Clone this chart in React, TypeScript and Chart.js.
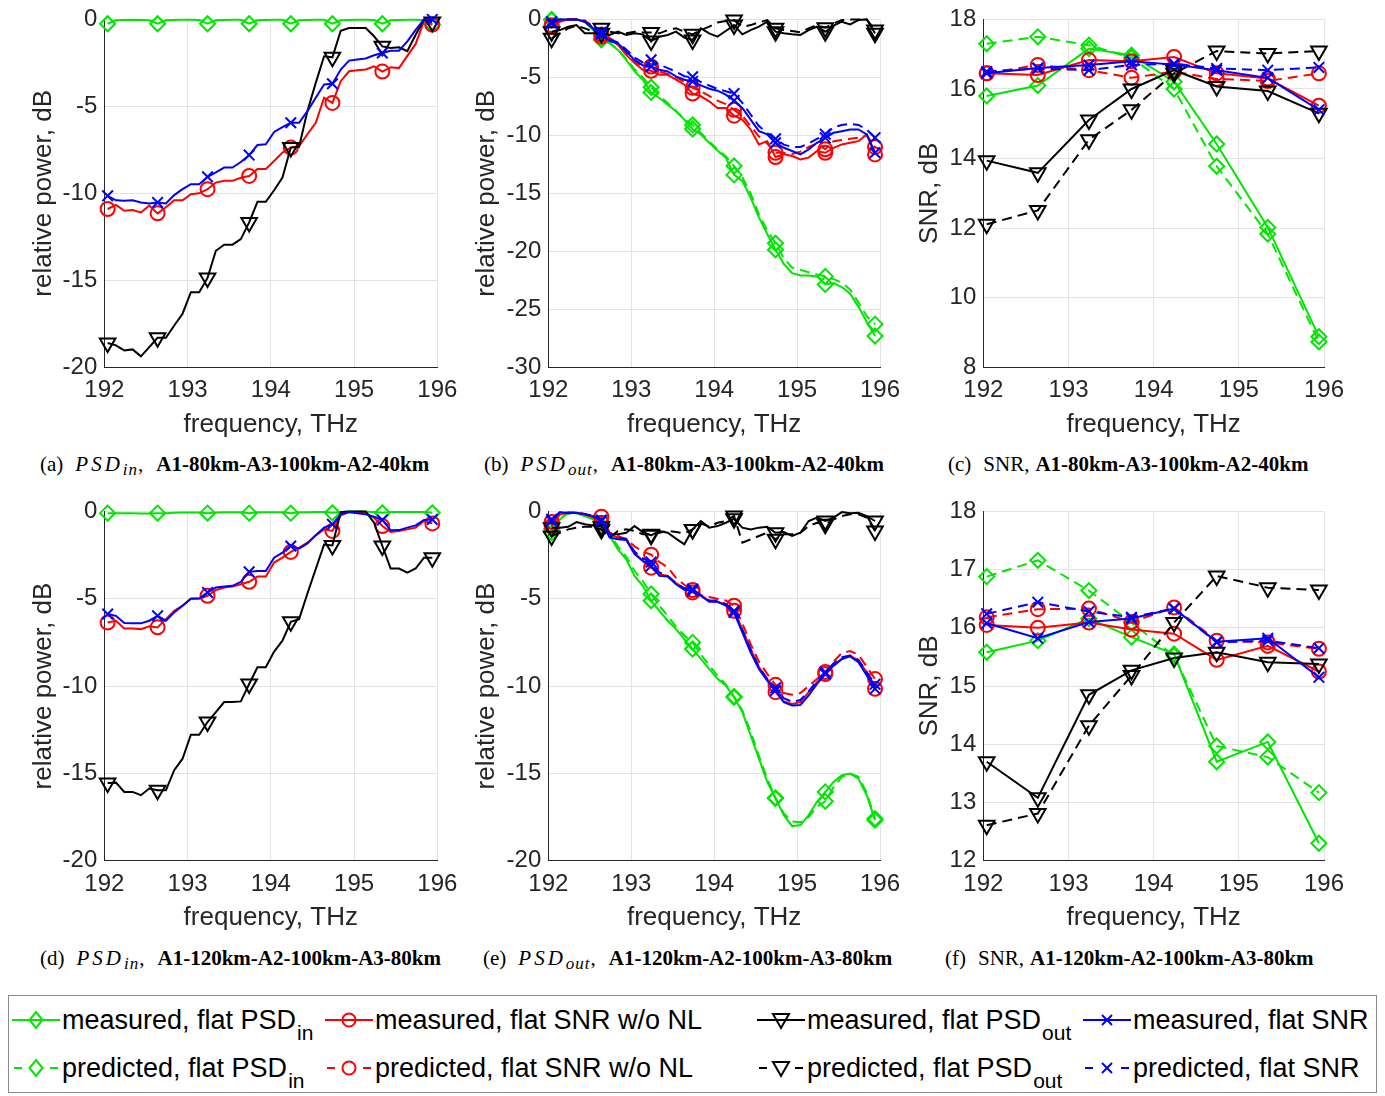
import React, { useEffect, useRef } from "react";
import { Chart, registerables } from "chart.js";

Chart.register(...registerables);

const FONT = '"Liberation Sans", Arial, Helvetica, sans-serif';
const SERIF = '"Liberation Serif", "Times New Roman", Times, serif';

// ---------------- data ----------------
const FREQ = [
  192.04, 192.14, 192.24, 192.34, 192.44, 192.54, 192.64, 192.74, 192.84, 192.94,
  193.04, 193.14, 193.24, 193.34, 193.44, 193.54, 193.64, 193.74, 193.84, 193.94,
  194.04, 194.14, 194.24, 194.34, 194.44, 194.54, 194.64, 194.74, 194.84, 194.94,
  195.04, 195.14, 195.24, 195.34, 195.44, 195.54, 195.64, 195.74, 195.84, 195.94,
];
const CHANNEL_FREQ = [192.04, 192.64, 193.24, 193.74, 194.24, 194.74, 195.34, 195.94];
const MARKER_INDEX = [0, 6, 12, 17, 22, 27, 33, 39];
const X_TICKS = [192, 193, 194, 195, 196];
const PSD_TICKS_20 = [-20, -15, -10, -5, 0];
const PSD_TICKS_30 = [-30, -25, -20, -15, -10, -5, 0];
const SNR_TICKS_C = [8, 10, 12, 14, 16, 18];
const SNR_TICKS_F = [12, 13, 14, 15, 16, 17, 18];

// (a) PSD_in, A1-80km-A3-100km-A2-40km
const A_MEAS_PSDIN = [-0.25, -0.05, -0.03, -0.02, -0.03, -0.05, -0.25, -0.05, -0.03, -0.02, -0.02, -0.03, -0.25, -0.05, -0.03, -0.02, -0.02, -0.25, -0.05, -0.03, -0.02, -0.02, -0.25, -0.05, -0.03, -0.02, -0.02, -0.25, -0.05, -0.03, -0.02, -0.02, -0.03, -0.25, -0.05, -0.03, -0.02, -0.02, -0.05, -0.3];
const A_MEAS_SNRWO = [-10.9, -10.66, -11.0, -10.96, -11.1, -10.7, -11.15, -10.8, -10.4, -10.4, -10.05, -10.0, -9.76, -9.38, -9.28, -9.28, -9.1, -9.0, -8.6, -8.6, -8.14, -7.66, -7.37, -7.28, -6.6, -5.94, -4.5, -4.8, -3.55, -2.98, -2.92, -2.88, -2.7, -3.0, -2.75, -2.8, -2.1, -1.41, -0.1, -0.3];
const A_MEAS_PSDOUT = [-18.6, -18.74, -19.03, -18.97, -19.37, -18.84, -18.3, -18.3, -17.6, -16.92, -15.68, -15.68, -14.86, -13.3, -12.95, -12.95, -12.63, -11.67, -10.49, -10.49, -9.82, -9.09, -7.37, -7.32, -5.27, -3.65, -2.12, -2.18, -0.65, -0.5, -0.5, -0.5, -0.97, -1.55, -1.64, -1.6, -1.83, -0.88, 0, -0.15];
const A_MEAS_SNR = [-10.14, -10.4, -10.43, -10.4, -10.52, -10.58, -10.52, -10.58, -10.1, -9.76, -9.47, -9.47, -9.05, -8.8, -8.52, -8.52, -8.2, -7.8, -7.22, -7.18, -6.47, -6.19, -5.94, -5.94, -5.27, -4.5, -3.74, -3.7, -2.88, -2.37, -2.31, -2.25, -2.06, -1.93, -1.8, -1.8, -1.26, -0.6, 0, 0];

// (b) PSD_out, A1-80km-A3-100km-A2-40km
const B_MEAS_PSDIN = [-0.06, 0, 0, 0, -0.2, -0.92, -1.77, -2.06, -2.63, -3.49, -4.49, -5.2, -6.3, -6.78, -7.35, -7.92, -8.64, -9.45, -9.92, -10.64, -11.3, -11.92, -13.41, -13.93, -15.36, -17.07, -18.5, -19.87, -21.08, -21.88, -22.08, -22.08, -22.16, -22.85, -22.73, -23.08, -23.65, -24.79, -26.08, -27.3];
const B_PRED_PSDIN = [0, 0, 0, 0, -0.2, -0.9, -1.7, -2.0, -2.6, -3.4, -4.3, -5.0, -5.85, -6.6, -7.2, -7.9, -8.6, -9.1, -9.8, -10.5, -11.2, -11.8, -12.64, -13.6, -15.0, -16.8, -18.2, -19.3, -20.6, -21.4, -21.6, -21.8, -22.0, -22.16, -22.4, -22.7, -23.3, -24.4, -25.6, -26.28];
const B_MEAS_SNRWO = [-0.63, -0.2, 0, 0, -0.2, -0.77, -1.49, -1.69, -2.2, -3.06, -3.77, -4.35, -4.43, -4.78, -4.78, -5.2, -5.63, -6.4, -6.63, -7.06, -7.64, -7.64, -8.3, -8.64, -9.49, -10.78, -10.5, -11.87, -11.64, -11.78, -12.07, -11.92, -11.35, -11.5, -11.07, -10.78, -10.64, -10.5, -9.92, -11.64];
const B_PRED_SNRWO = [-0.5, -0.1, 0, 0, -0.1, -0.6, -1.3, -1.6, -2.1, -2.9, -3.6, -4.1, -4.06, -4.5, -4.7, -5.0, -5.4, -5.9, -6.2, -6.6, -7.0, -7.3, -7.8, -8.3, -9.2, -10.1, -10.7, -11.5, -11.5, -11.6, -11.4, -11.0, -10.7, -11.2, -10.5, -10.4, -10.3, -10.2, -10.0, -11.0];
const B_MEAS_PSDOUT = [-1.06, -0.92, -0.63, -0.49, -1.2, -1.2, -1.2, -1.34, -1.06, -1.34, -1.2, -1.29, -1.86, -1.49, -1.34, -1.06, -1.57, -1.77, -0.77, -1.2, -1.49, -1.0, -0.49, -1.29, -0.92, -0.63, -0.2, -1.06, -1.2, -1.29, -1.34, -0.92, -0.63, -1.06, -0.54, -0.2, -0.43, -0.06, 0, -1.2];
const B_PRED_PSDOUT = [-1.63, -1.2, -0.77, -0.54, -0.77, -1.06, -0.77, -1.06, -1.2, -1.2, -1.06, -1.12, -1.12, -1.2, -0.92, -0.77, -1.06, -1.29, -0.92, -0.63, -0.26, -0.14, -0.06, -0.63, -0.49, -0.26, -0.06, -0.77, -0.92, -1.0, -1.12, -0.77, -0.49, -0.72, -0.34, -0.06, 0, 0, 0, -0.92];
const B_MEAS_SNR = [-0.34, 0, 0, 0, -0.2, -0.77, -1.29, -1.86, -2.06, -2.77, -3.49, -3.97, -4.06, -4.35, -4.49, -4.92, -5.2, -5.35, -5.69, -5.98, -6.15, -6.49, -7.0, -7.64, -8.64, -9.64, -9.92, -10.64, -11.07, -11.35, -11.64, -11.21, -10.64, -10.21, -9.78, -9.64, -9.49, -9.49, -9.92, -11.5];
const B_PRED_SNR = [-0.2, 0, 0, 0, -0.15, -0.7, -1.1, -1.7, -2.0, -2.6, -3.3, -3.7, -3.49, -3.9, -4.2, -4.5, -4.9, -4.95, -5.4, -5.7, -6.0, -6.2, -6.4, -7.2, -8.2, -9.2, -9.8, -10.3, -10.8, -11.0, -11.0, -10.7, -10.3, -9.9, -9.3, -9.1, -9.0, -9.1, -9.5, -10.2];

// (c) SNR, A1-80km-A3-100km-A2-40km
const C_MEAS_PSDIN = [15.8, 16.1, 17.16, 16.97, 16.21, 14.42, 12.02, 8.88];
const C_PRED_PSDIN = [17.3, 17.5, 17.26, 16.9, 16.0, 13.78, 11.83, 8.73];
const C_MEAS_SNRWO = [16.45, 16.4, 16.83, 16.8, 16.92, 16.45, 16.3, 15.52];
const C_PRED_SNRWO = [16.45, 16.69, 16.54, 16.32, 16.5, 16.29, 16.23, 16.45];
const C_MEAS_PSDOUT = [13.94, 13.59, 15.11, 16.0, 16.54, 16.07, 15.94, 15.3];
const C_PRED_PSDOUT = [12.11, 12.51, 14.54, 15.4, 16.45, 17.09, 17.02, 17.09];
const C_MEAS_SNR = [16.45, 16.6, 16.69, 16.8, 16.7, 16.54, 16.32, 15.4];
const C_PRED_SNR = [16.5, 16.59, 16.54, 16.69, 16.73, 16.59, 16.54, 16.62];

// (d) PSD_in, A1-120km-A2-100km-A3-80km
const D_MEAS_PSDIN = [-0.1, -0.1, -0.1, -0.1, -0.12, -0.12, -0.1, -0.1, -0.08, -0.07, -0.07, -0.06, -0.1, -0.06, -0.05, -0.05, -0.05, -0.1, -0.05, -0.05, -0.05, -0.05, -0.1, -0.05, -0.05, -0.04, -0.03, -0.08, -0.03, 0, 0, -0.02, -0.03, -0.08, -0.04, -0.04, -0.04, -0.04, -0.04, -0.08];
const D_MEAS_SNRWO = [-6.36, -6.26, -6.7, -6.7, -6.74, -6.58, -6.64, -6.17, -5.69, -5.4, -5.02, -4.99, -4.83, -4.51, -4.36, -4.3, -4.17, -4.03, -3.73, -3.73, -2.93, -2.65, -2.32, -2.07, -1.79, -1.37, -1.03, -1.12, -0.23, -0.04, -0.08, -0.11, -0.36, -0.84, -1.18, -1.12, -1.03, -0.93, -0.55, -0.69];
const D_MEAS_PSDOUT = [-15.55, -15.53, -16.06, -16.06, -16.25, -15.87, -15.97, -15.97, -14.82, -14.16, -12.79, -12.79, -12.06, -11.49, -10.92, -10.92, -10.88, -9.88, -8.92, -8.92, -8.03, -7.4, -6.32, -6.17, -4.7, -3.3, -1.9, -1.95, -0.04, 0, 0, 0, -0.65, -1.98, -3.27, -3.27, -3.5, -3.27, -2.65, -2.65];
const D_MEAS_SNR = [-5.88, -5.98, -6.39, -6.41, -6.41, -6.26, -5.98, -6.26, -5.78, -5.4, -4.99, -4.99, -4.64, -4.36, -4.3, -4.26, -4.03, -3.46, -3.41, -3.41, -2.65, -2.36, -1.98, -2.13, -1.83, -1.37, -0.93, -0.74, -0.17, -0.04, -0.11, -0.17, -0.3, -0.49, -1.08, -1.07, -0.93, -0.8, -0.49, -0.46];

// (e) PSD_out, A1-120km-A2-100km-A3-80km
const E_MEAS_PSDIN = [-1.22, -0.46, -0.08, -0.11, -0.27, -0.46, -0.84, -1.41, -2.17, -2.74, -3.69, -4.26, -5.12, -5.69, -6.26, -6.74, -7.31, -7.88, -8.45, -9.02, -9.59, -9.97, -10.64, -11.49, -12.83, -14.16, -15.49, -16.44, -17.39, -18.02, -17.96, -17.39, -16.63, -16.06, -15.49, -15.11, -15.01, -15.3, -16.25, -17.68];
const E_PRED_PSDIN = [-1.0, -0.4, -0.1, -0.1, -0.25, -0.45, -0.8, -1.3, -2.0, -2.6, -3.4, -4.0, -4.73, -5.4, -6.0, -6.6, -7.1, -7.5, -8.2, -8.8, -9.4, -9.9, -10.6, -11.4, -12.6, -14.0, -15.3, -16.4, -17.3, -17.75, -17.8, -17.5, -16.9, -16.6, -15.8, -15.2, -15.0, -15.2, -16.1, -17.6];
const E_MEAS_SNRWO = [-0.84, -0.17, -0.08, -0.08, -0.17, -0.36, -0.65, -1.31, -1.5, -1.56, -2.36, -2.84, -3.22, -3.6, -3.69, -4.11, -4.41, -4.64, -4.8, -5.12, -5.18, -5.31, -5.69, -6.74, -7.88, -8.92, -9.59, -10.35, -10.88, -11.02, -10.92, -10.35, -9.78, -9.31, -8.83, -8.45, -8.26, -8.54, -9.21, -10.16];
const E_PRED_SNRWO = [-0.6, -0.15, -0.05, -0.05, -0.15, -0.35, -0.3, -1.2, -1.4, -1.6, -2.0, -2.3, -2.48, -2.9, -3.2, -3.8, -4.2, -4.5, -4.8, -4.9, -5.0, -5.1, -5.4, -6.4, -7.6, -8.6, -9.3, -9.93, -10.4, -10.5, -10.4, -10.0, -9.6, -9.2, -8.6, -8.1, -8.0, -8.2, -8.9, -9.6];
const E_MEAS_PSDOUT = [-0.93, -0.93, -0.88, -0.61, -0.74, -0.8, -0.88, -1.31, -1.31, -1.22, -0.84, -1.18, -1.37, -1.12, -1.22, -1.56, -1.88, -1.03, -0.55, -0.93, -0.84, -0.65, -0.42, -0.93, -1.03, -0.93, -0.88, -1.22, -1.18, -1.41, -1.22, -0.55, -0.36, -0.55, -0.36, -0.04, -0.11, -0.08, -0.27, -0.55];
const E_PRED_PSDOUT = [-1.41, -1.22, -1.03, -0.93, -0.88, -0.88, -1.03, -1.5, -1.12, -1.03, -1.12, -1.31, -1.31, -1.22, -1.12, -1.18, -1.26, -1.03, -0.68, -0.88, -0.65, -0.55, -0.27, -1.79, -1.6, -1.41, -1.22, -1.6, -1.31, -1.31, -1.22, -0.84, -0.65, -0.74, -0.46, -0.27, -0.17, -0.17, -0.36, -1.12];
const E_MEAS_SNR = [-0.55, -0.04, -0.11, -0.08, -0.17, -0.27, -0.55, -1.5, -1.6, -1.64, -2.45, -2.84, -3.12, -3.69, -3.73, -4.17, -4.49, -4.55, -4.83, -5.18, -5.18, -5.4, -5.79, -6.93, -8.07, -9.02, -9.69, -10.26, -10.92, -11.11, -11.08, -10.54, -9.88, -9.31, -8.83, -8.45, -8.3, -8.64, -9.4, -10.16];
const E_PRED_SNR = [-0.45, -0.05, -0.1, -0.08, -0.15, -0.25, -0.5, -1.3, -1.5, -1.6, -2.3, -2.7, -2.9, -3.5, -3.7, -4.1, -4.4, -4.45, -4.8, -5.1, -5.1, -5.3, -5.7, -6.8, -7.9, -8.9, -9.6, -10.1, -10.7, -10.9, -10.8, -10.3, -9.7, -9.2, -8.7, -8.35, -8.25, -8.5, -9.2, -9.9];

// (f) SNR, A1-120km-A2-100km-A3-80km
const F_MEAS_PSDIN = [15.58, 15.78, 16.16, 15.84, 15.55, 13.7, 14.04, 12.3];
const F_PRED_PSDIN = [16.88, 17.16, 16.64, 16.09, 15.52, 13.97, 13.78, 13.17];
const F_MEAS_SNRWO = [16.05, 16.0, 16.09, 15.97, 15.9, 15.45, 15.69, 15.25];
const F_PRED_SNRWO = [16.18, 16.32, 16.33, 16.1, 16.35, 15.78, 15.75, 15.64];
const F_MEAS_PSDOUT = [13.7, 13.08, 14.85, 15.27, 15.48, 15.58, 15.41, 15.38];
const F_PRED_PSDOUT = [12.61, 12.81, 14.32, 15.18, 16.09, 16.89, 16.69, 16.65];
const F_MEAS_SNR = [16.08, 15.82, 16.1, 16.16, 16.33, 15.76, 15.82, 15.15];
const F_PRED_SNR = [16.24, 16.44, 16.28, 16.18, 16.33, 15.75, 15.78, 15.65];

const CAPTION_TAGS = ["(a)", "(b)", "(c)", "(d)", "(e)", "(f)"];
const CAPTION_QTY = ["PSD_in", "PSD_out", "SNR", "PSD_in", "PSD_out", "SNR"];
const CAPTION_ROUTES = [
  "A1-80km-A3-100km-A2-40km",
  "A1-80km-A3-100km-A2-40km",
  "A1-80km-A3-100km-A2-40km",
  "A1-120km-A2-100km-A3-80km",
  "A1-120km-A2-100km-A3-80km",
  "A1-120km-A2-100km-A3-80km",
];

// ---------------- styles ----------------
type Kind = "psdIn" | "snrWoNl" | "psdOut" | "snr";
const STYLE: Record<Kind, { color: string; pointStyle: string; rotation: number; radius: number }> = {
  psdIn: { color: "#00e600", pointStyle: "rectRot", rotation: 0, radius: 7.5 },
  snrWoNl: { color: "#ff0000", pointStyle: "circle", rotation: 0, radius: 7 },
  psdOut: { color: "#000000", pointStyle: "triangle", rotation: 180, radius: 9 },
  snr: { color: "#0000ff", pointStyle: "crossRot", rotation: 0, radius: 7.5 },
};
const AXIS_COLOR = "#262626";
const GRID_COLOR = "#e3e3e3";

type Series = { kind: Kind; predicted: boolean; y: number[] };
type PanelCfg = {
  area: { l: number; t: number; r: number; b: number };
  xs: number[];
  markers: number[] | null;
  yMin: number;
  yMax: number;
  yTicks: number[];
  yTitle: string;
  yTitleX: number;
  xTitleY: number;
  series: Series[];
};

const TOP_A = { t: 18, b: 367.3 };
const BOT_A = { t: 510.3, b: 860.7 };
const COL_L = [{ l: 104.3, r: 437.3, tx: 44 }, { l: 548.3, r: 880, tx: 487 }, { l: 983.3, r: 1324, tx: 930 }];

const PANELS: PanelCfg[] = [
  {
    area: { l: COL_L[0].l, r: COL_L[0].r, ...TOP_A }, xs: FREQ, markers: MARKER_INDEX,
    yMin: -20, yMax: 0, yTicks: PSD_TICKS_20, yTitle: "relative power, dB", yTitleX: COL_L[0].tx, xTitleY: 425,
    series: [
      { kind: "psdIn", predicted: false, y: A_MEAS_PSDIN },
      { kind: "snrWoNl", predicted: false, y: A_MEAS_SNRWO },
      { kind: "psdOut", predicted: false, y: A_MEAS_PSDOUT },
      { kind: "snr", predicted: false, y: A_MEAS_SNR },
    ],
  },
  {
    area: { l: COL_L[1].l, r: COL_L[1].r, ...TOP_A }, xs: FREQ, markers: MARKER_INDEX,
    yMin: -30, yMax: 0, yTicks: PSD_TICKS_30, yTitle: "relative power, dB", yTitleX: COL_L[1].tx, xTitleY: 425,
    series: [
      { kind: "psdIn", predicted: false, y: B_MEAS_PSDIN },
      { kind: "psdIn", predicted: true, y: B_PRED_PSDIN },
      { kind: "snrWoNl", predicted: false, y: B_MEAS_SNRWO },
      { kind: "snrWoNl", predicted: true, y: B_PRED_SNRWO },
      { kind: "psdOut", predicted: false, y: B_MEAS_PSDOUT },
      { kind: "psdOut", predicted: true, y: B_PRED_PSDOUT },
      { kind: "snr", predicted: false, y: B_MEAS_SNR },
      { kind: "snr", predicted: true, y: B_PRED_SNR },
    ],
  },
  {
    area: { l: COL_L[2].l, r: COL_L[2].r, ...TOP_A }, xs: CHANNEL_FREQ, markers: null,
    yMin: 8, yMax: 18, yTicks: SNR_TICKS_C, yTitle: "SNR, dB", yTitleX: COL_L[2].tx, xTitleY: 425,
    series: [
      { kind: "psdIn", predicted: false, y: C_MEAS_PSDIN },
      { kind: "psdIn", predicted: true, y: C_PRED_PSDIN },
      { kind: "snrWoNl", predicted: false, y: C_MEAS_SNRWO },
      { kind: "snrWoNl", predicted: true, y: C_PRED_SNRWO },
      { kind: "psdOut", predicted: false, y: C_MEAS_PSDOUT },
      { kind: "psdOut", predicted: true, y: C_PRED_PSDOUT },
      { kind: "snr", predicted: false, y: C_MEAS_SNR },
      { kind: "snr", predicted: true, y: C_PRED_SNR },
    ],
  },
  {
    area: { l: COL_L[0].l, r: COL_L[0].r, ...BOT_A }, xs: FREQ, markers: MARKER_INDEX,
    yMin: -20, yMax: 0, yTicks: PSD_TICKS_20, yTitle: "relative power, dB", yTitleX: COL_L[0].tx, xTitleY: 918,
    series: [
      { kind: "psdIn", predicted: false, y: D_MEAS_PSDIN },
      { kind: "snrWoNl", predicted: false, y: D_MEAS_SNRWO },
      { kind: "psdOut", predicted: false, y: D_MEAS_PSDOUT },
      { kind: "snr", predicted: false, y: D_MEAS_SNR },
    ],
  },
  {
    area: { l: COL_L[1].l, r: COL_L[1].r, ...BOT_A }, xs: FREQ, markers: MARKER_INDEX,
    yMin: -20, yMax: 0, yTicks: PSD_TICKS_20, yTitle: "relative power, dB", yTitleX: COL_L[1].tx, xTitleY: 918,
    series: [
      { kind: "psdIn", predicted: false, y: E_MEAS_PSDIN },
      { kind: "psdIn", predicted: true, y: E_PRED_PSDIN },
      { kind: "snrWoNl", predicted: false, y: E_MEAS_SNRWO },
      { kind: "snrWoNl", predicted: true, y: E_PRED_SNRWO },
      { kind: "psdOut", predicted: false, y: E_MEAS_PSDOUT },
      { kind: "psdOut", predicted: true, y: E_PRED_PSDOUT },
      { kind: "snr", predicted: false, y: E_MEAS_SNR },
      { kind: "snr", predicted: true, y: E_PRED_SNR },
    ],
  },
  {
    area: { l: COL_L[2].l, r: COL_L[2].r, ...BOT_A }, xs: CHANNEL_FREQ, markers: null,
    yMin: 12, yMax: 18, yTicks: SNR_TICKS_F, yTitle: "SNR, dB", yTitleX: COL_L[2].tx, xTitleY: 918,
    series: [
      { kind: "psdIn", predicted: false, y: F_MEAS_PSDIN },
      { kind: "psdIn", predicted: true, y: F_PRED_PSDIN },
      { kind: "snrWoNl", predicted: false, y: F_MEAS_SNRWO },
      { kind: "snrWoNl", predicted: true, y: F_PRED_SNRWO },
      { kind: "psdOut", predicted: false, y: F_MEAS_PSDOUT },
      { kind: "psdOut", predicted: true, y: F_PRED_PSDOUT },
      { kind: "snr", predicted: false, y: F_MEAS_SNR },
      { kind: "snr", predicted: true, y: F_PRED_SNR },
    ],
  },
];

const TICK_FONT = 24;
const TITLE_FONT = 26;

function panelBox(cfg: PanelCfg) {
  const left = Math.floor(cfg.area.l - 106);
  const top = Math.floor(cfg.area.t - 20);
  const right = Math.ceil(cfg.area.r + 30);
  const bottom = Math.ceil(cfg.area.b + 82);
  return { left, top, width: right - left, height: bottom - top };
}

function Panel({ cfg }: { cfg: PanelCfg }) {
  const ref = useRef<HTMLCanvasElement | null>(null);
  const box = panelBox(cfg);
  useEffect(() => {
    if (!ref.current) return;
    const { area } = cfg;
    const titleHalf = (TITLE_FONT * 1.2) / 2;
    const datasets = cfg.series
      .map((s) => {
        const st = STYLE[s.kind];
        return {
          data: cfg.xs.map((x, i) => ({ x, y: s.y[i] })),
          borderColor: st.color,
          backgroundColor: st.color,
          borderWidth: 2,
          borderDash: s.predicted ? [10, 6] : [],
          pointStyle: st.pointStyle,
          pointRotation: st.rotation,
          pointRadius: cfg.xs.map((_, i) => (!cfg.markers || cfg.markers.includes(i) ? st.radius : 0)),
          pointBorderColor: st.color,
          pointBackgroundColor: "rgba(0,0,0,0)",
          pointBorderWidth: 2,
          tension: 0,
          fill: false,
          clip: false as any,
        };
      })
      .reverse();
    const chart = new Chart(ref.current, {
      type: "line",
      data: { datasets: datasets as any },
      options: {
        responsive: false,
        animation: false,
        devicePixelRatio: 1,
        events: [],
        layout: {
          padding: { left: 0, top: area.t - box.top, right: box.left + box.width - area.r, bottom: 0 },
        },
        plugins: { legend: { display: false }, tooltip: { enabled: false } },
        scales: {
          x: {
            type: "linear",
            min: 192,
            max: 196,
            afterBuildTicks: (s: any) => {
              s.ticks = X_TICKS.map((v) => ({ value: v }));
            },
            afterFit: (s: any) => {
              s.height = box.top + box.height - area.b;
            },
            ticks: {
              color: AXIS_COLOR,
              font: { family: FONT, size: TICK_FONT },
              padding: 9,
              maxRotation: 0,
              autoSkip: false,
              callback: (v: any) => String(v),
            },
            grid: { color: GRID_COLOR, lineWidth: 1, drawTicks: false },
            border: { display: true, color: AXIS_COLOR, width: 1 },
            title: {
              display: true,
              text: "frequency, THz",
              color: AXIS_COLOR,
              font: { family: FONT, size: TITLE_FONT },
              padding: { top: 0, bottom: box.top + box.height - cfg.xTitleY - titleHalf },
            },
          },
          y: {
            type: "linear",
            min: cfg.yMin,
            max: cfg.yMax,
            afterBuildTicks: (s: any) => {
              s.ticks = cfg.yTicks.map((v) => ({ value: v }));
            },
            afterFit: (s: any) => {
              s.width = area.l - box.left;
            },
            ticks: {
              color: AXIS_COLOR,
              font: { family: FONT, size: TICK_FONT },
              padding: 7,
              autoSkip: false,
              callback: (v: any) => String(v),
            },
            grid: { color: GRID_COLOR, lineWidth: 1, drawTicks: false },
            border: { display: true, color: AXIS_COLOR, width: 1 },
            title: {
              display: true,
              text: cfg.yTitle,
              color: AXIS_COLOR,
              font: { family: FONT, size: TITLE_FONT },
              padding: { top: cfg.yTitleX - box.left - titleHalf, bottom: 0 },
            },
          },
        },
      } as any,
    });
    return () => chart.destroy();
  }, []);
  return (
    <canvas
      ref={ref}
      width={box.width}
      height={box.height}
      style={{ position: "absolute", left: box.left, top: box.top, width: box.width, height: box.height }}
    />
  );
}

// ---------------- captions ----------------
const CAPTION_POS = [
  { x: 40, y: 451 }, { x: 484, y: 451 }, { x: 948, y: 451 },
  { x: 40, y: 945 }, { x: 483, y: 945 }, { x: 945, y: 945 },
];

function Caption({ i }: { i: number }) {
  const qty = CAPTION_QTY[i];
  const [base, sub] = qty.split("_");
  return (
    <div
      style={{
        position: "absolute",
        left: CAPTION_POS[i].x,
        top: CAPTION_POS[i].y,
        fontFamily: SERIF,
        fontSize: 21,
        lineHeight: "26px",
        whiteSpace: "nowrap",
        color: "#000",
      }}
    >
      <span>{CAPTION_TAGS[i]}</span>
      <span style={{ marginLeft: 12 }}>
        {sub ? (
          <>
            <i style={{ letterSpacing: 3 }}>{base}</i>
            <i style={{ fontSize: 17, letterSpacing: 1, position: "relative", top: 4 }}>{sub}</i>
            <span>,</span>
            <b style={{ marginLeft: 13 }}>{CAPTION_ROUTES[i]}</b>
          </>
        ) : (
          <>
            <span>{base},</span>
            <b style={{ marginLeft: 6 }}>{CAPTION_ROUTES[i]}</b>
          </>
        )}
      </span>
    </div>
  );
}

// ---------------- legend ----------------
const LEGEND_LABELS = [
  "measured, flat PSD", "predicted, flat PSD",
  "measured, flat SNR w/o NL", "predicted, flat SNR w/o NL",
  "measured, flat PSD", "predicted, flat PSD",
  "measured, flat SNR", "predicted, flat SNR",
];
const LEGEND_SUBS = ["in", "in", "", "", "out", "out", "", ""];
const LEGEND_KINDS: Kind[] = ["psdIn", "psdIn", "snrWoNl", "snrWoNl", "psdOut", "psdOut", "snr", "snr"];
const LEGEND_COL_X = [12, 325, 757, 1083];
const LEGEND_ROW_Y = [1020, 1068];

function Marker({ kind }: { kind: Kind }) {
  const c = STYLE[kind].color;
  const cx = 24, cy = 12;
  if (kind === "psdIn")
    return <polygon points={`${cx},${cy - 8} ${cx + 6.5},${cy} ${cx},${cy + 8} ${cx - 6.5},${cy}`} fill="none" stroke={c} strokeWidth={2} />;
  if (kind === "snrWoNl") return <circle cx={cx} cy={cy} r={6.5} fill="none" stroke={c} strokeWidth={2} />;
  if (kind === "psdOut")
    return <polygon points={`${cx - 8},${cy - 6} ${cx + 8},${cy - 6} ${cx},${cy + 8}`} fill="none" stroke={c} strokeWidth={2} />;
  return (
    <g stroke={c} strokeWidth={2}>
      <line x1={cx - 5} y1={cy - 5} x2={cx + 5} y2={cy + 5} />
      <line x1={cx - 5} y1={cy + 5} x2={cx + 5} y2={cy - 5} />
    </g>
  );
}

function LegendItem({ i }: { i: number }) {
  const kind = LEGEND_KINDS[i];
  const predicted = i % 2 === 1;
  const x = LEGEND_COL_X[Math.floor(i / 2)];
  const y = LEGEND_ROW_Y[i % 2];
  const c = STYLE[kind].color;
  return (
    <>
      <svg width={48} height={24} style={{ position: "absolute", left: x, top: y - 12 }}>
        {predicted ? (
          <g stroke={c} strokeWidth={2}>
            <line x1={2} y1={12} x2={10} y2={12} />
            <line x1={38} y1={12} x2={46} y2={12} />
          </g>
        ) : (
          <line x1={0} y1={12} x2={48} y2={12} stroke={c} strokeWidth={2} />
        )}
        <Marker kind={kind} />
      </svg>
      <div
        style={{
          position: "absolute",
          left: x + 50,
          top: y - 16,
          height: 32,
          lineHeight: "32px",
          fontFamily: FONT,
          fontSize: 27,
          whiteSpace: "nowrap",
          color: "#000",
        }}
      >
        {LEGEND_LABELS[i]}
        {LEGEND_SUBS[i] ? (
          <span style={{ fontSize: 21, position: "relative", top: 11, marginLeft: 1 }}>{LEGEND_SUBS[i]}</span>
        ) : null}
      </div>
    </>
  );
}

export default function App() {
  return (
    <div style={{ position: "absolute", left: 0, top: 0, width: 1385, height: 1096, background: "#fff", overflow: "hidden" }}>
      {PANELS.map((p, i) => (
        <Panel key={i} cfg={p} />
      ))}
      {CAPTION_TAGS.map((_, i) => (
        <Caption key={i} i={i} />
      ))}
      <div
        style={{
          position: "absolute",
          left: 8,
          top: 995,
          width: 1369,
          height: 98,
          border: "1px solid #8a8a8a",
          boxSizing: "border-box",
          background: "#fff",
        }}
      />
      {LEGEND_LABELS.map((_, i) => (
        <LegendItem key={i} i={i} />
      ))}
    </div>
  );
}
